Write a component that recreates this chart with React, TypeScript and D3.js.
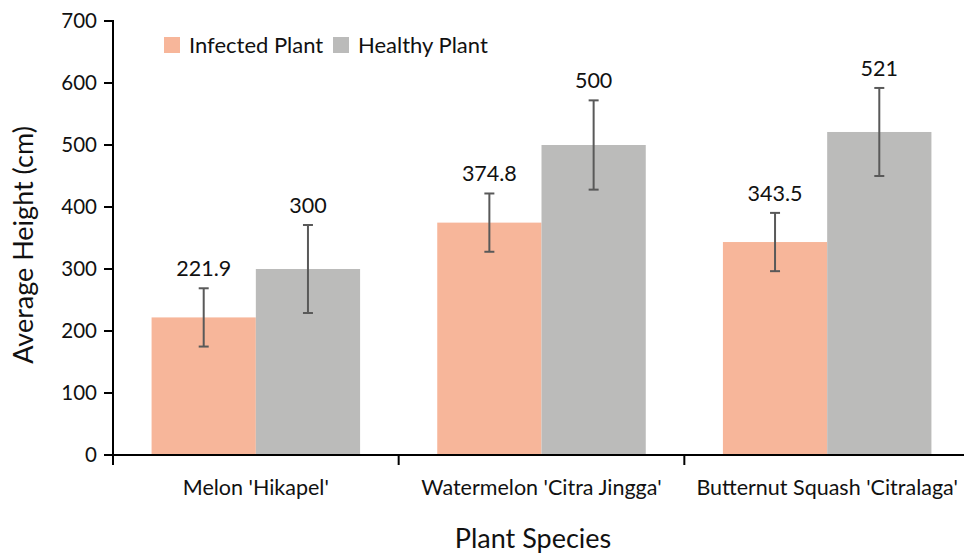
import React from 'react';
import * as d3 from 'd3';

const categories = ["Melon 'Hikapel'", "Watermelon 'Citra Jingga'", "Butternut Squash 'Citralaga'"];
const seriesNames = ['Infected Plant', 'Healthy Plant'];
const infected = [221.9, 374.8, 343.5];
const healthy = [300, 500, 521];
const infectedErr = [47, 47, 47];
const healthyErr = [71, 72, 71];
const yTicks = [0, 100, 200, 300, 400, 500, 600, 700];
const colors = ['#F7B69A', '#BBBBBA'];

const W = 964;
const H = 553;
const FONT = "Lato, 'Open Sans', sans-serif";

const App = () => {
  const x = d3.scaleBand().domain(categories).range([113, 970]).paddingInner(0).paddingOuter(0);
  const inner = d3.scaleBand().domain(seriesNames).range([0, x.bandwidth()]).paddingOuter(0.37).paddingInner(0);
  const y = d3.scaleLinear().domain([0, 700]).range([455, 21]);

  const rows = categories.map((c, i) => [
    { cat: c, s: seriesNames[0], v: infected[i], e: infectedErr[i], color: colors[0] },
    { cat: c, s: seriesNames[1], v: healthy[i], e: healthyErr[i], color: colors[1] },
  ]).flat();

  return (
    <svg width={W} height={H} style={{ position: 'absolute', left: 0, top: 0, background: '#fff' }}>
      {rows.map((d, i) => {
        const bx = (x(d.cat) ?? 0) + (inner(d.s) ?? 0);
        const cx = bx + inner.bandwidth() / 2;
        return (
          <g key={i}>
            <rect x={bx} y={y(d.v)} width={inner.bandwidth()} height={y(0) - y(d.v)} fill={d.color} />
            <line x1={cx} x2={cx} y1={y(d.v + d.e)} y2={y(d.v - d.e)} stroke="#595959" strokeWidth={2} />
            <line x1={cx - 5} x2={cx + 5} y1={y(d.v + d.e)} y2={y(d.v + d.e)} stroke="#595959" strokeWidth={2} />
            <line x1={cx - 5} x2={cx + 5} y1={y(d.v - d.e)} y2={y(d.v - d.e)} stroke="#595959" strokeWidth={2} />
            <text x={cx} y={y(d.v + d.e) - 12} textAnchor="middle" fontFamily={FONT} fontSize={21.5} fill="#111">
              {String(d.v)}
            </text>
          </g>
        );
      })}

      {/* y axis */}
      <line x1={113} x2={113} y1={20} y2={456} stroke="#000" strokeWidth={2} />
      {yTicks.map((t) => (
        <g key={t}>
          <line x1={104} x2={113} y1={y(t)} y2={y(t)} stroke="#000" strokeWidth={2} />
          <text x={97} y={y(t)} dy="0.35em" textAnchor="end" fontFamily={FONT} fontSize={20.5} fill="#111">
            {t}
          </text>
        </g>
      ))}

      {/* x axis */}
      <line x1={112} x2={W} y1={455} y2={455} stroke="#000" strokeWidth={2} />
      {[0, 1, 2, 3].map((k) => {
        const px = 113 + k * x.step();
        return <line key={k} x1={px} x2={px} y1={455} y2={465} stroke="#000" strokeWidth={2} />;
      })}
      {categories.map((c) => (
        <text key={c} x={(x(c) ?? 0) + x.bandwidth() / 2} y={495} textAnchor="middle" fontFamily={FONT} fontSize={21.5} fill="#111">
          {c}
        </text>
      ))}

      <text x={533} y={548} textAnchor="middle" fontFamily={FONT} fontSize={27} fill="#111">Plant Species</text>
      <text transform="translate(33,245) rotate(-90)" textAnchor="middle" fontFamily={FONT} fontSize={27} fill="#111">
        Average Height (cm)
      </text>

      {/* legend */}
      {seriesNames.map((s, i) => {
        const lx = [164, 333][i];
        return (
          <g key={s}>
            <rect x={lx} y={37} width={16} height={16} fill={colors[i]} />
            <text x={lx + 25} y={45} dy="0.35em" fontFamily={FONT} fontSize={22} fill="#111">{s}</text>
          </g>
        );
      })}
    </svg>
  );
};

export default App;
